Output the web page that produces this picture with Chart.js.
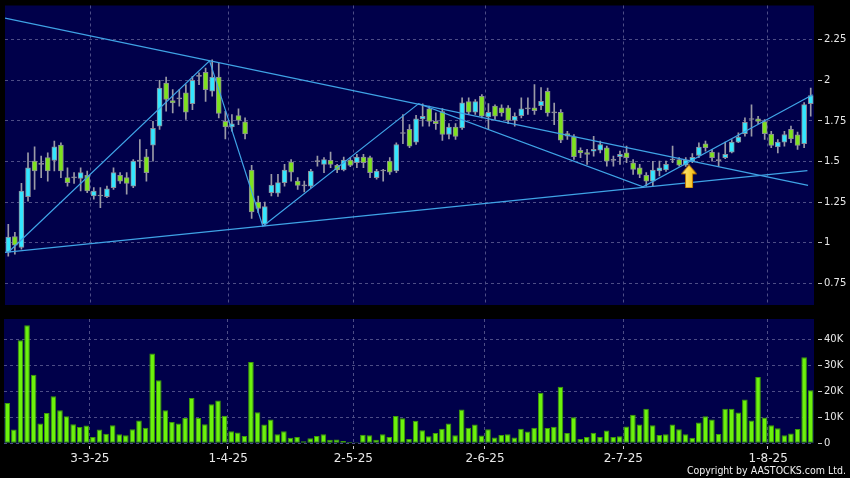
<!DOCTYPE html>
<html>
<head>
<meta charset="utf-8">
<script src="https://cdn.jsdelivr.net/npm/chart.js@4.4.1/dist/chart.umd.min.js"></script>
<style>
  html, body { margin: 0; padding: 0; background: #000; }
  #wrap { position: relative; width: 850px; height: 478px; overflow: hidden; background: #000; }
  #price { position: absolute; left: 0; top: 0; }
  #vol { position: absolute; left: 0; top: 310px; }
  #copy {
    position: absolute; right: 4px; top: 465px;
    font-family: 'DejaVu Sans Condensed', 'DejaVu Sans', sans-serif;
    font-stretch: condensed; font-size: 10.5px; line-height: 1;
    color: #f0f0f0; white-space: nowrap;
  }
</style>
</head>
<body>
<div id="wrap">
  <canvas id="price" width="850" height="310"></canvas>
  <canvas id="vol" width="850" height="168"></canvas>
  <div id="copy">Copyright by AASTOCKS.com Ltd.</div>
</div>
<script>
// trading days shown on the chart
const dates = [
  '12-2-25','13-2-25','14-2-25','17-2-25','18-2-25','19-2-25','20-2-25','21-2-25','24-2-25','25-2-25','26-2-25','27-2-25','28-2-25',
  '3-3-25','4-3-25','5-3-25','6-3-25','7-3-25','10-3-25','11-3-25','12-3-25','13-3-25','14-3-25','17-3-25','18-3-25','19-3-25','20-3-25','21-3-25','24-3-25','25-3-25','26-3-25','27-3-25','28-3-25','31-3-25',
  '1-4-25','2-4-25','3-4-25','7-4-25','8-4-25','9-4-25','10-4-25','11-4-25','14-4-25','15-4-25','16-4-25','17-4-25','22-4-25','23-4-25','24-4-25','25-4-25','28-4-25','29-4-25','30-4-25',
  '2-5-25','6-5-25','7-5-25','8-5-25','9-5-25','12-5-25','13-5-25','14-5-25','15-5-25','16-5-25','19-5-25','20-5-25','21-5-25','22-5-25','23-5-25','26-5-25','27-5-25','28-5-25','29-5-25','30-5-25',
  '2-6-25','3-6-25','4-6-25','5-6-25','6-6-25','9-6-25','10-6-25','11-6-25','12-6-25','13-6-25','16-6-25','17-6-25','18-6-25','19-6-25','20-6-25','23-6-25','24-6-25','25-6-25','26-6-25','27-6-25','30-6-25',
  '2-7-25','3-7-25','4-7-25','7-7-25','8-7-25','9-7-25','10-7-25','11-7-25','14-7-25','15-7-25','16-7-25','17-7-25','18-7-25','21-7-25','22-7-25','23-7-25','24-7-25','25-7-25','28-7-25','29-7-25','30-7-25','31-7-25',
  '1-8-25','4-8-25','5-8-25','6-8-25','7-8-25','8-8-25','11-8-25'
];

const axisLabels = ['3-3-25', '1-4-25', '2-5-25', '2-6-25', '2-7-25', '1-8-25'];

const openPrice = [
  0.942, 1.039, 0.971, 1.284, 1.503, 1.483, 1.524, 1.507, 1.601, 1.401,
  1.40, 1.397, 1.415, 1.288, 1.288, 1.284, 1.34, 1.415, 1.401, 1.349,
  1.503, 1.53, 1.601, 1.718, 1.984, 1.875, 1.886, 1.923, 1.857, 2.025,
  2.049, 1.933, 2.021, 1.748, 1.714, 1.783, 1.745, 1.448, 1.251, 1.114,
  1.309, 1.305, 1.37, 1.497, 1.38, 1.35, 1.349, 1.50, 1.483, 1.507,
  1.477, 1.448, 1.509, 1.493, 1.528, 1.524, 1.401, 1.442, 1.503, 1.442,
  1.673, 1.698, 1.62, 1.763, 1.825, 1.748, 1.808, 1.667, 1.712, 1.708,
  1.869, 1.804, 1.902, 1.775, 1.841, 1.831, 1.831, 1.753, 1.783, 1.825,
  1.831, 1.845, 1.933, 1.80, 1.804, 1.673, 1.653, 1.57, 1.556, 1.564,
  1.57, 1.585, 1.507, 1.53, 1.554, 1.493, 1.462, 1.415, 1.38, 1.442,
  1.448, 1.51, 1.513, 1.478, 1.503, 1.538, 1.609, 1.559, 1.506, 1.524,
  1.558, 1.62, 1.672, 1.759, 1.763, 1.747, 1.669, 1.591, 1.62, 1.699,
  1.664, 1.61, 1.856
];

const highPrice = [
  1.114, 1.065, 1.366, 1.554, 1.591, 1.534, 1.554, 1.626, 1.616, 1.462,
  1.432, 1.462, 1.442, 1.34, 1.34, 1.349, 1.462, 1.432, 1.432, 1.513,
  1.636, 1.575, 1.748, 2.0, 2.021, 1.943, 1.943, 1.974, 2.025, 2.046,
  2.076, 2.127, 2.107, 1.81, 1.79, 1.825, 1.769, 1.477, 1.288, 1.25,
  1.421, 1.421, 1.483, 1.513, 1.401, 1.38, 1.452, 1.534, 1.524, 1.558,
  1.483, 1.528, 1.524, 1.544, 1.544, 1.534, 1.452, 1.452, 1.524, 1.616,
  1.79, 1.728, 1.785, 1.855, 1.841, 1.80, 1.826, 1.734, 1.734, 1.892,
  1.892, 1.882, 1.912, 1.857, 1.85, 1.85, 1.845, 1.80, 1.892, 1.892,
  1.974, 1.955, 1.953, 1.86, 1.82, 1.687, 1.667, 1.585, 1.575, 1.656,
  1.626, 1.595, 1.534, 1.564, 1.595, 1.513, 1.483, 1.432, 1.501, 1.503,
  1.503, 1.595, 1.524, 1.524, 1.55, 1.616, 1.626, 1.575, 1.554, 1.62,
  1.636, 1.677, 1.769, 1.85, 1.779, 1.759, 1.687, 1.636, 1.687, 1.718,
  1.681, 1.863, 1.953
];

const lowPrice = [
  0.918, 0.93, 0.96, 1.257, 1.329, 1.401, 1.38, 1.442, 1.401, 1.349,
  1.366, 1.319, 1.309, 1.268, 1.217, 1.278, 1.329, 1.366, 1.299, 1.34,
  1.462, 1.38, 1.503, 1.698, 1.81, 1.80, 1.841, 1.759, 1.82, 1.974,
  1.871, 1.902, 1.769, 1.64, 1.687, 1.728, 1.64, 1.15, 1.186, 1.104,
  1.288, 1.286, 1.349, 1.38, 1.329, 1.313, 1.34, 1.472, 1.432, 1.462,
  1.432, 1.442, 1.469, 1.462, 1.462, 1.401, 1.391, 1.38, 1.421, 1.432,
  1.61, 1.585, 1.605, 1.718, 1.718, 1.698, 1.63, 1.64, 1.636, 1.698,
  1.79, 1.79, 1.769, 1.698, 1.759, 1.779, 1.734, 1.718, 1.769, 1.79,
  1.79, 1.82, 1.779, 1.728, 1.616, 1.636, 1.513, 1.524, 1.483, 1.534,
  1.554, 1.472, 1.472, 1.483, 1.493, 1.421, 1.401, 1.348, 1.349, 1.411,
  1.44, 1.493, 1.472, 1.47, 1.493, 1.524, 1.564, 1.503, 1.472, 1.518,
  1.554, 1.616, 1.656, 1.656, 1.734, 1.636, 1.585, 1.554, 1.595, 1.616,
  1.575, 1.585, 1.779
];

const closePrice = [
  1.035, 0.985, 1.319, 1.462, 1.442, 1.483, 1.442, 1.591, 1.442, 1.37,
  1.40, 1.432, 1.319, 1.319, 1.288, 1.333, 1.432, 1.38, 1.366, 1.503,
  1.503, 1.432, 1.704, 1.953, 1.882, 1.861, 1.886, 1.804, 2.0, 2.025,
  1.943, 2.021, 1.796, 1.714, 1.732, 1.753, 1.671, 1.19, 1.211, 1.223,
  1.356, 1.37, 1.448, 1.435, 1.354, 1.35, 1.442, 1.50, 1.513, 1.483,
  1.448, 1.509, 1.477, 1.528, 1.493, 1.432, 1.442, 1.442, 1.435, 1.605,
  1.673, 1.595, 1.763, 1.779, 1.748, 1.734, 1.667, 1.712, 1.655, 1.861,
  1.804, 1.869, 1.779, 1.804, 1.779, 1.80, 1.753, 1.779, 1.825, 1.825,
  1.814, 1.871, 1.80, 1.80, 1.632, 1.656, 1.53, 1.554, 1.544, 1.575,
  1.605, 1.503, 1.507, 1.544, 1.524, 1.452, 1.421, 1.38, 1.448, 1.462,
  1.483, 1.51, 1.478, 1.509, 1.526, 1.589, 1.585, 1.524, 1.506, 1.544,
  1.62, 1.651, 1.742, 1.759, 1.748, 1.672, 1.60, 1.62, 1.667, 1.639,
  1.60, 1.851, 1.907
];

// shares traded per day
const volume = [
  15500, 5300, 39600, 45400, 26400, 7600, 11700, 18100, 12700, 10400,
  7300, 6300, 6800, 2400, 5300, 3700, 6900, 3500, 3100, 5400,
  8800, 6000, 34500, 24200, 12700, 8200, 7600, 9700, 17400, 9700,
  7300, 15000, 16500, 10600, 4600, 4200, 2800, 31300, 11900, 7200,
  9200, 3500, 4600, 2100, 2400, 800, 1900, 2800, 3500, 1400,
  1500, 900, 500, 400, 3300, 3100, 1400, 3500, 2400, 10500,
  9600, 1700, 8700, 5000, 2700, 4000, 5600, 7600, 3100, 13000,
  6000, 7200, 3000, 5400, 2200, 3200, 3500, 2200, 5600, 4500,
  6000, 19400, 5900, 6400, 21700, 4000, 10000, 1700, 2400, 4100,
  2400, 4900, 2400, 2700, 6500, 11000, 7200, 13300, 6900, 3200,
  3500, 7200, 5400, 3500, 2100, 8000, 10400, 9200, 3600, 13300,
  13300, 11800, 16800, 8800, 25500, 9900, 6900, 5800, 3100, 3800,
  5500, 33100, 20400
];

const priceTicks = [0.75, 1, 1.25, 1.5, 1.75, 2, 2.25];
const volumeTicks = [0, 10000, 20000, 30000, 40000];
const volumeTickLabels = ['0', '10K', '20K', '30K', '40K'];

// drawn trend lines, x given in day index
const trendUpperX = [-0.5, 121.6];
const trendUpperY = [2.383, 1.354];
const trendLowerX = [-0.5, 121.5];
const trendLowerY = [0.941, 1.444];
const zigzagX = [0, 30.6, 38.7, 62.4, 96.5, 122.3];
const zigzagY = [0.942, 2.121, 1.102, 1.857, 1.345, 1.912];

// buy signal arrow
const arrowX = [103.5];
const arrowY = [1.409];

const navy = '#00004a';
const gridColor = '#4d4d86';
const textColor = '#e8e8e8';
const lineColor = '#3fa3e6';
const upColor = '#33e6ff';
const downColor = '#7ee21e';
const edgeColor = '#8c8c98';

const plotBackground = {
  id: 'plotBackground',
  beforeDraw(chart) {
    const { ctx, chartArea } = chart;
    ctx.save();
    ctx.fillStyle = navy;
    ctx.fillRect(chartArea.left, chartArea.top,
      chartArea.right - chartArea.left, chartArea.bottom - chartArea.top);
    ctx.restore();
  }
};

function isLabelled(index) {
  return axisLabels.includes(dates[index]);
}

function fitRightAxis(scale) {
  scale.width = 36;
  scale.paddingTop = 0;
  scale.paddingBottom = 0;
}

function makeArrow() {
  const c = document.createElement('canvas');
  c.width = 16;
  c.height = 24;
  const g = c.getContext('2d');
  g.beginPath();
  g.moveTo(8, 0.5);
  g.lineTo(15.5, 9.5);
  g.lineTo(11.5, 9.5);
  g.lineTo(11.5, 23.5);
  g.lineTo(4.5, 23.5);
  g.lineTo(4.5, 9.5);
  g.lineTo(0.5, 9.5);
  g.closePath();
  const grad = g.createLinearGradient(0, 0, 16, 0);
  grad.addColorStop(0, '#fff08a');
  grad.addColorStop(1, '#f5b400');
  g.fillStyle = grad;
  g.fill();
  g.strokeStyle = '#c07800';
  g.lineWidth = 1;
  g.stroke();
  return c;
}

const toPoints = (xs, ys) => xs.map((x, i) => ({ x: x, y: ys[i] }));

const bodyColors = openPrice.map((o, i) =>
  closePrice[i] > o ? upColor : closePrice[i] < o ? downColor : edgeColor);

const lineDataset = (xs, ys) => ({
  type: 'line',
  xAxisID: 'xl',
  data: toPoints(xs, ys),
  borderColor: lineColor,
  borderWidth: 1.2,
  pointRadius: 0,
  order: 0
});

new Chart(document.getElementById('price'), {
  type: 'bar',
  data: {
    labels: dates,
    datasets: [
      {
        type: 'scatter',
        xAxisID: 'xl',
        data: toPoints(arrowX, arrowY),
        pointStyle: makeArrow(),
        order: -1
      },
      lineDataset(trendUpperX, trendUpperY),
      lineDataset(trendLowerX, trendLowerY),
      lineDataset(zigzagX, zigzagY),
      {
        data: openPrice.map((o, i) => [o, closePrice[i]]),
        backgroundColor: bodyColors,
        borderColor: edgeColor,
        borderWidth: 1,
        borderSkipped: false,
        barThickness: 5,
        minBarLength: 1,
        grouped: false,
        order: 1
      },
      {
        data: lowPrice.map((l, i) => [l, highPrice[i]]),
        backgroundColor: '#9a9aa6',
        barThickness: 1,
        grouped: false,
        order: 2
      }
    ]
  },
  options: {
    responsive: false,
    animation: false,
    layout: { padding: { left: 4, top: 5.5, right: 0, bottom: 4 } },
    plugins: { legend: { display: false }, tooltip: { enabled: false } },
    scales: {
      x: {
        offset: true,
        ticks: { display: false, autoSkip: false },
        grid: {
          offset: true,
          drawTicks: false,
          color: (ctx) => (isLabelled(ctx.index) ? gridColor : 'rgba(0,0,0,0)')
        },
        border: { display: false, dash: [3, 3] },
        afterFit: (scale) => { scale.height = 0; }
      },
      xl: {
        type: 'linear',
        display: false,
        offset: false,
        grid: { offset: false },
        min: -0.5,
        max: 122.5
      },
      y: {
        position: 'right',
        min: 0.617,
        max: 2.461,
        afterBuildTicks: (scale) => {
          scale.ticks = priceTicks.map((v) => ({ value: v }));
        },
        ticks: {
          color: textColor,
          padding: 2,
          font: { family: 'DejaVu Sans', size: 10 },
          callback: (v) => String(v)
        },
        grid: {
          color: gridColor,
          tickColor: '#c8c8c8',
          tickLength: 8,
          tickBorderDash: [0, 4, 4, 20]
        },
        border: { display: false, dash: [3, 3] },
        afterFit: fitRightAxis
      }
    }
  },
  plugins: [plotBackground]
});

new Chart(document.getElementById('vol'), {
  type: 'bar',
  data: {
    labels: dates,
    datasets: [
      {
        data: volume,
        backgroundColor: '#6cf20c',
        borderColor: '#3d9c06',
        borderWidth: 1,
        borderSkipped: false,
        categoryPercentage: 1,
        barPercentage: 0.85
      }
    ]
  },
  options: {
    responsive: false,
    animation: false,
    layout: { padding: { left: 4, top: 9, right: 0, bottom: 0 } },
    plugins: { legend: { display: false }, tooltip: { enabled: false } },
    scales: {
      x: {
        offset: true,
        ticks: {
          autoSkip: false,
          maxRotation: 0,
          color: textColor,
          padding: 1,
          labelOffset: -3,
          font: { family: 'DejaVu Sans', size: 12 },
          callback: (v, i) => (isLabelled(i) ? dates[i] : '')
        },
        grid: {
          offset: true,
          color: (ctx) => (isLabelled(ctx.index) ? gridColor : 'rgba(0,0,0,0)'),
          tickColor: (ctx) => (isLabelled(ctx.index) ? '#c8c8c8' : 'rgba(0,0,0,0)'),
          tickLength: 7,
          tickBorderDash: [0, 3, 3, 20]
        },
        border: { display: false, dash: [3, 3] },
        afterFit: (scale) => { scale.height = 34.7; }
      },
      y: {
        position: 'right',
        min: 0,
        max: 47800,
        afterBuildTicks: (scale) => {
          scale.ticks = volumeTicks.map((v) => ({ value: v }));
        },
        ticks: {
          color: textColor,
          padding: 2,
          font: { family: 'DejaVu Sans', size: 10 },
          callback: (v, i) => volumeTickLabels[i]
        },
        grid: {
          color: gridColor,
          tickColor: '#c8c8c8',
          tickLength: 8,
          tickBorderDash: [0, 4, 4, 20]
        },
        border: { display: false, dash: [3, 3] },
        afterFit: fitRightAxis
      }
    }
  },
  plugins: [plotBackground]
});
</script>
</body>
</html>
